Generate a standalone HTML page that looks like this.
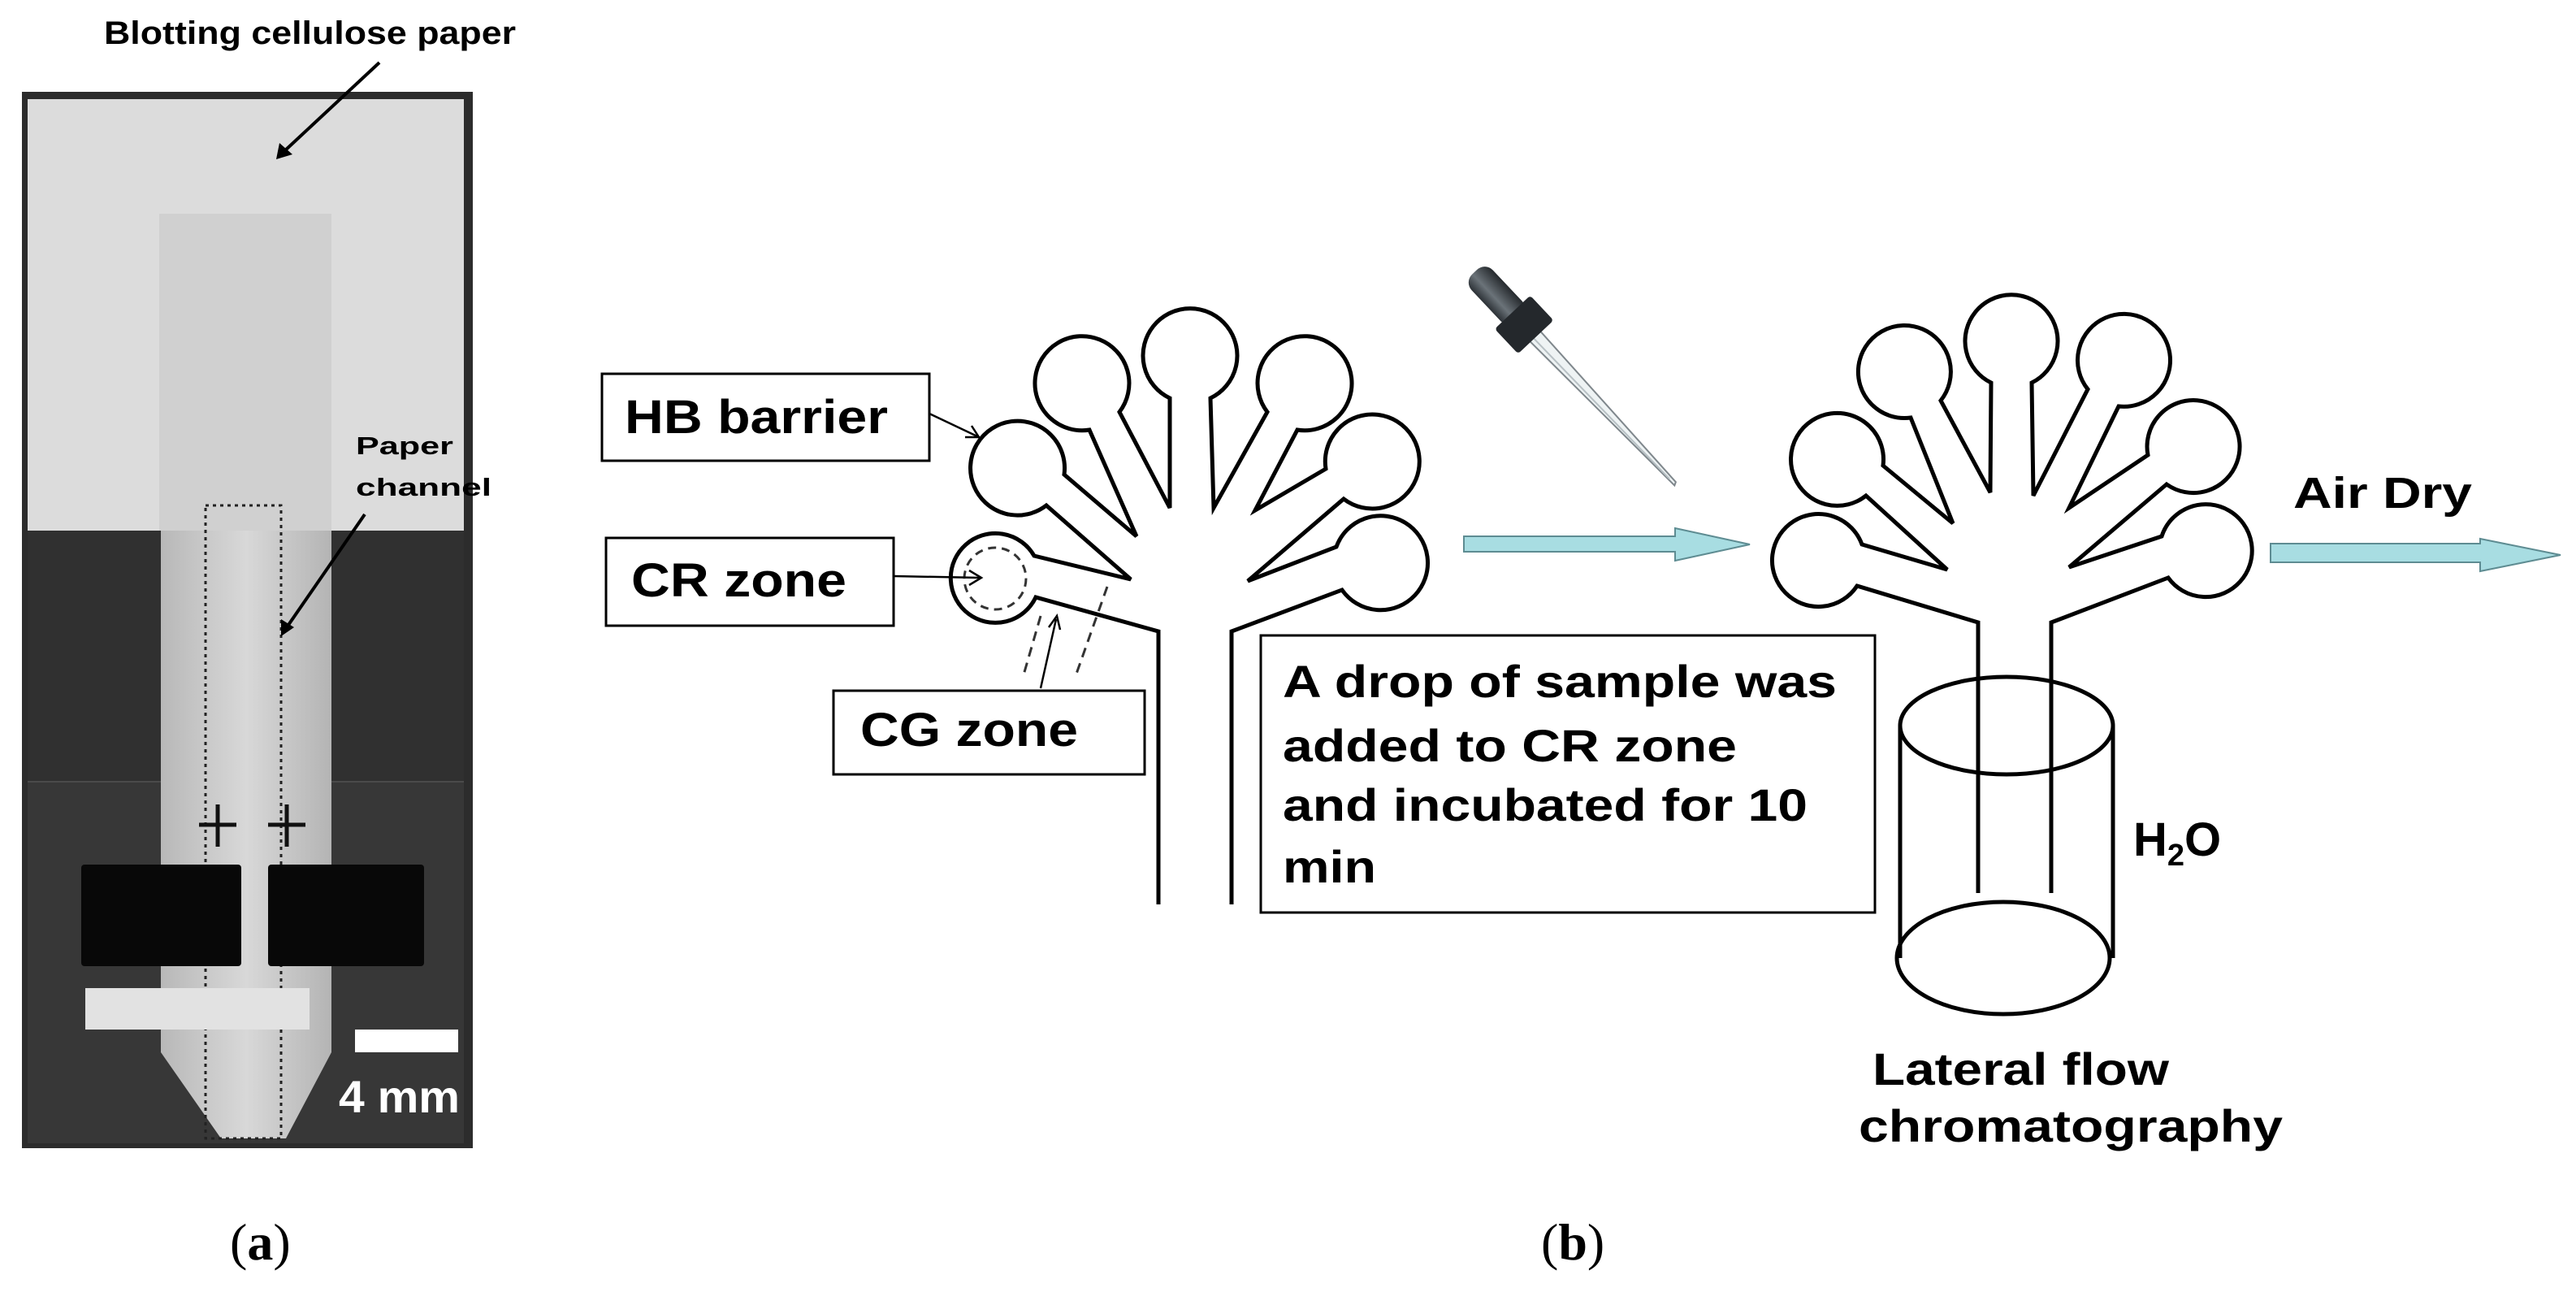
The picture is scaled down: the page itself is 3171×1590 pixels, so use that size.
<!DOCTYPE html>
<html><head><meta charset="utf-8"><style>
html,body{margin:0;padding:0;background:#fff;}
svg{display:block;}
text{font-family:"Liberation Sans",Arial,sans-serif;font-weight:bold;fill:#000;}
</style></head><body>
<svg width="3171" height="1590" viewBox="0 0 3171 1590" xmlns="http://www.w3.org/2000/svg">
<defs>
<linearGradient id="strip" x1="0" x2="1" y1="0" y2="0">
<stop offset="0" stop-color="#b8b8b8"/><stop offset="0.5" stop-color="#d8d8d8"/><stop offset="1" stop-color="#b4b4b4"/>
</linearGradient>
<linearGradient id="bulb" x1="0" x2="1" y1="0" y2="0">
<stop offset="0" stop-color="#2c3136"/><stop offset="0.4" stop-color="#6b7379"/><stop offset="1" stop-color="#25292d"/>
</linearGradient>
</defs>

<!-- Panel (a) photo -->
<text x="128" y="54" font-size="40" textLength="507" lengthAdjust="spacingAndGlyphs">Blotting cellulose paper</text>
<rect x="27" y="113" width="555" height="1300" fill="#2c2c2c"/>
<rect x="34" y="122" width="537" height="531" fill="#dcdcdc"/>
<rect x="34" y="653" width="537" height="309" fill="#303030"/>
<rect x="34" y="962" width="537" height="445" fill="#373737"/>
<line x1="34" y1="962" x2="571" y2="962" stroke="#4a4a4a" stroke-width="2"/>
<!-- strip -->
<rect x="196" y="263" width="212" height="390" fill="#d0d0d0"/>
<polygon points="198,653 408,653 408,1295 352,1401 272,1401 198,1295" fill="url(#strip)"/>
<!-- dotted channel -->
<rect x="253" y="622" width="93" height="779" fill="none" stroke="#222" stroke-width="3" stroke-dasharray="4,5"/>
<!-- crosses -->
<g stroke="#111" stroke-width="5">
<line x1="245" y1="1015" x2="291" y2="1015"/><line x1="268" y1="990" x2="268" y2="1042"/>
<line x1="330" y1="1015" x2="376" y2="1015"/><line x1="353" y1="990" x2="353" y2="1042"/>
</g>
<rect x="100" y="1064" width="197" height="125" rx="4" fill="#080808"/>
<rect x="330" y="1064" width="192" height="125" rx="4" fill="#080808"/>
<rect x="105" y="1216" width="276" height="51" fill="#e2e2e2"/>
<rect x="437" y="1267" width="127" height="28" fill="#ffffff"/>
<text x="417" y="1369" font-size="56" fill="#fff" style="fill:#fff" textLength="149" lengthAdjust="spacingAndGlyphs">4 mm</text>
<text x="438" y="559" font-size="31" textLength="120" lengthAdjust="spacingAndGlyphs">Paper</text>
<text x="438" y="610" font-size="31" textLength="167" lengthAdjust="spacingAndGlyphs">channel</text>
<g stroke="#000" stroke-width="4" fill="#000">
<line x1="467" y1="77" x2="350" y2="186"/><polygon points="340,196 344,176 360,190" stroke="none"/>
<line x1="449" y1="633" x2="353" y2="772"/><polygon points="346,783 346,762 362,772" stroke="none"/>
</g>

<!-- Panel labels -->
<text x="283" y="1550" font-size="64" style="font-family:'Liberation Serif',serif;font-weight:normal">(<tspan font-weight="bold">a</tspan>)</text>
<text x="1897" y="1550" font-size="64" style="font-family:'Liberation Serif',serif;font-weight:normal">(<tspan font-weight="bold">b</tspan>)</text>

<!-- Tree 1 -->
<path d="M1426,1113 L1426,777 L1275,735 A55,55 0 1 1 1273,684 L1392,713 L1288,622 A58,58 0 1 1 1310,584 L1399,660 L1341,529 A58,58 0 1 1 1378,507 L1440,625 L1440,490 A58,58 0 1 1 1490,490 L1494,625 L1560,507 A58,58 0 1 1 1597,529 L1545,628 L1632,577 A58,58 0 1 1 1654,614 L1536,715 L1645,673 A58,58 0 1 1 1652,726 L1516,777 L1516,1113" fill="none" stroke="#000" stroke-width="5" stroke-linejoin="miter"/>
<circle cx="1225" cy="712" r="38" fill="none" stroke="#333" stroke-width="3" stroke-dasharray="10,7"/>
<g stroke="#333" stroke-width="3" stroke-dasharray="12,8">
<line x1="1281" y1="758" x2="1259" y2="834"/>
<line x1="1363" y1="722" x2="1324" y2="832"/>
</g>

<!-- Labels boxes -->
<g fill="#fff" stroke="#000" stroke-width="3">
<rect x="741" y="460" width="403" height="107"/>
<rect x="746" y="662" width="354" height="108"/>
<rect x="1026" y="850" width="383" height="103"/>
<rect x="1552" y="782" width="756" height="341"/>
</g>
<text x="769" y="533" font-size="58" textLength="324" lengthAdjust="spacingAndGlyphs">HB barrier</text>
<text x="777" y="734" font-size="58" textLength="265" lengthAdjust="spacingAndGlyphs">CR zone</text>
<text x="1059" y="918" font-size="58" textLength="268" lengthAdjust="spacingAndGlyphs">CG zone</text>
<text x="1579" y="858" font-size="56" textLength="682" lengthAdjust="spacingAndGlyphs">A drop of sample was</text>
<text x="1579" y="937" font-size="56" textLength="559" lengthAdjust="spacingAndGlyphs">added to CR zone</text>
<text x="1579" y="1010" font-size="56" textLength="646" lengthAdjust="spacingAndGlyphs">and incubated for 10</text>
<text x="1579" y="1086" font-size="56" textLength="115" lengthAdjust="spacingAndGlyphs">min</text>
<!-- label arrows -->
<g stroke="#000" stroke-width="2.5" fill="none">
<line x1="1144" y1="509" x2="1203" y2="537"/><polyline points="1188,538 1205,538 1196,524"/>
<line x1="1100" y1="709" x2="1206" y2="711"/><polyline points="1193,702 1208,711 1193,720"/>
<line x1="1281" y1="847" x2="1300" y2="762"/><polyline points="1291,772 1301,758 1305,775"/>
</g>

<!-- Arrow 1 -->
<polygon points="1802,660 2062,660 2062,650 2154,670 2062,690 2062,679 1802,679" fill="#a8dde2" stroke="#5e8c92" stroke-width="2"/>
<!-- Air Dry arrow -->
<polygon points="2795,669 3053,669 3053,663 3152,683 3053,703 3053,692 2795,692" fill="#a8dde2" stroke="#5e8c92" stroke-width="2"/>
<text x="2823" y="625" font-size="54" textLength="220" lengthAdjust="spacingAndGlyphs">Air Dry</text>

<!-- Dropper -->
<g transform="translate(1822,342) rotate(-43.3)">
<polygon points="-9,96 9,96 3,348 -1,350" fill="#eef3f4" stroke="#7f878c" stroke-width="2"/>
<line x1="-3" y1="100" x2="0" y2="340" stroke="#b7c0c4" stroke-width="2"/>
<rect x="-18" y="-10" width="36" height="80" rx="14" fill="url(#bulb)"/>
<rect x="-30" y="58" width="60" height="42" rx="4" fill="#24282c"/>
</g>

<!-- Tree 2 -->
<path d="M2435,1099 L2435,766 L2286,721 A57,57 0 1 1 2292,670 L2397,701 L2297,610 A57,57 0 1 1 2318,573 L2404,644 L2352,514 A57,57 0 1 1 2389,493 L2450,606 L2451,471 A57,57 0 1 1 2501,471 L2503,610 L2570,479 A57,57 0 1 1 2608,500 L2547,625 L2644,560 A57,57 0 1 1 2667,596 L2547,698 L2661,660 A57,57 0 1 1 2669,711 L2525,766 L2525,1099" fill="none" stroke="#000" stroke-width="5"/>
<!-- beaker -->
<g fill="none" stroke="#000" stroke-width="5">
<ellipse cx="2470" cy="893" rx="131" ry="60"/>
<ellipse cx="2466" cy="1179" rx="131" ry="69"/>
<line x1="2339" y1="893" x2="2339" y2="1179"/>
<line x1="2601" y1="893" x2="2601" y2="1179"/>
</g>
<text x="2626" y="1053" font-size="58">H<tspan font-size="38" dy="12">2</tspan><tspan dy="-12">O</tspan></text>
<text x="2305" y="1335" font-size="56" textLength="365" lengthAdjust="spacingAndGlyphs">Lateral flow</text>
<text x="2288" y="1405" font-size="56" textLength="522" lengthAdjust="spacingAndGlyphs">chromatography</text>
</svg>
</body></html>
